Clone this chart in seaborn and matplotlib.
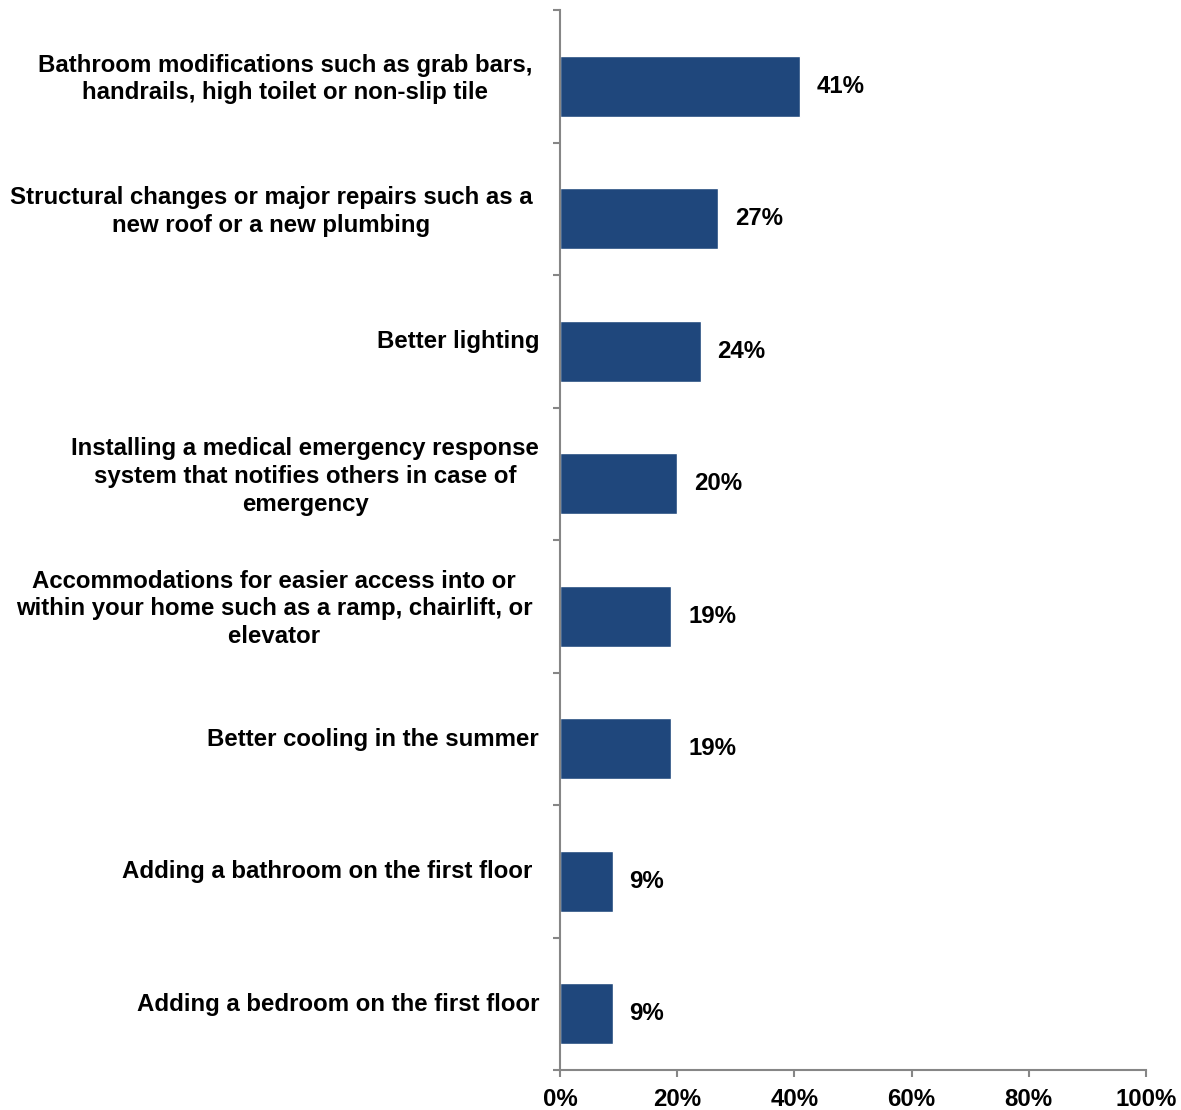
import matplotlib
matplotlib.use("Agg")
import matplotlib.pyplot as plt
import matplotlib.transforms as mtransforms
from matplotlib.ticker import FixedLocator, FuncFormatter
import pandas as pd
import seaborn as sns

categories = [
    "Bathroom modifications such as grab bars, \nhandrails, high toilet or non-slip tile ",
    "Structural changes or major repairs such as a \nnew roof or a new plumbing ",
    "Better lighting",
    "Installing a medical emergency response\nsystem that notifies others in case of\nemergency",
    "Accommodations for easier access into or \nwithin your home such as a ramp, chairlift, or \nelevator ",
    "Better cooling in the summer",
    "Adding a bathroom on the first floor ",
    "Adding a bedroom on the first floor",
]
shares = [41, 27, 24, 20, 19, 19, 9, 9]
x_ticks = [0, 20, 40, 60, 80, 100]

df = pd.DataFrame({"item": categories, "share": shares})

sns.set_style("white")
plt.rcParams["font.family"] = ["Liberation Sans", "DejaVu Sans"]
plt.rcParams["font.weight"] = "bold"
plt.rcParams["text.color"] = "black"
plt.rcParams["xtick.color"] = "black"
plt.rcParams["ytick.color"] = "black"

FS = 17.3
AXIS_GREY = "#868686"

fig = plt.figure(figsize=(11.81, 11.10), dpi=100)
ax = fig.add_axes([560 / 1181, 1 - 1070 / 1110, 586 / 1181, 1060 / 1110])

sns.barplot(data=df, y="item", x="share", orient="h", color="#1F477C",
            width=0.46, saturation=1, ax=ax)

n = len(categories)
off = 0.075  # bars sit slightly below the middle of their band
ax.set_xlim(0, 100)
ax.set_ylim(n - 0.5 - off, -0.5 - off)
ax.set_xlabel("")
ax.set_ylabel("")

for s in ["top", "right"]:
    ax.spines[s].set_visible(False)
for s in ["left", "bottom"]:
    ax.spines[s].set_color(AXIS_GREY)
    ax.spines[s].set_linewidth(1.5)

# x axis
ax.xaxis.set_major_locator(FixedLocator(x_ticks))
ax.xaxis.set_major_formatter(FuncFormatter(lambda v, p: f"{v:.0f}%"))
ax.tick_params(axis="x", which="major", bottom=True, direction="out", length=5,
               width=1.5, color=AXIS_GREY, labelcolor="black", labelsize=FS, pad=8)

# y axis: labels per category, tick marks on band boundaries
ax.yaxis.set_minor_locator(FixedLocator([i - 0.5 - off for i in range(n + 1)]))
ax.tick_params(axis="y", which="major", left=False, length=0, labelsize=FS,
               labelcolor="black", pad=15)
ax.tick_params(axis="y", which="minor", left=True, direction="out", length=5,
               width=1.5, color=AXIS_GREY)
shift = mtransforms.ScaledTranslation(0, (off * 132.5 + 2) / 100, fig.dpi_scale_trans)
for lbl in ax.get_yticklabels():
    lbl.set_fontweight("bold")
    lbl.set_multialignment("center")
    lbl.set_linespacing(1.25)
    lbl.set_transform(lbl.get_transform() + shift)
for lbl in ax.get_xticklabels():
    lbl.set_fontweight("bold")

# value labels
for container in ax.containers:
    ax.bar_label(container, labels=[f"{v}%" for v in shares], padding=12,
                 fontsize=FS, fontweight="bold", color="black")

fig.savefig("out.png", dpi=100, facecolor="white")
